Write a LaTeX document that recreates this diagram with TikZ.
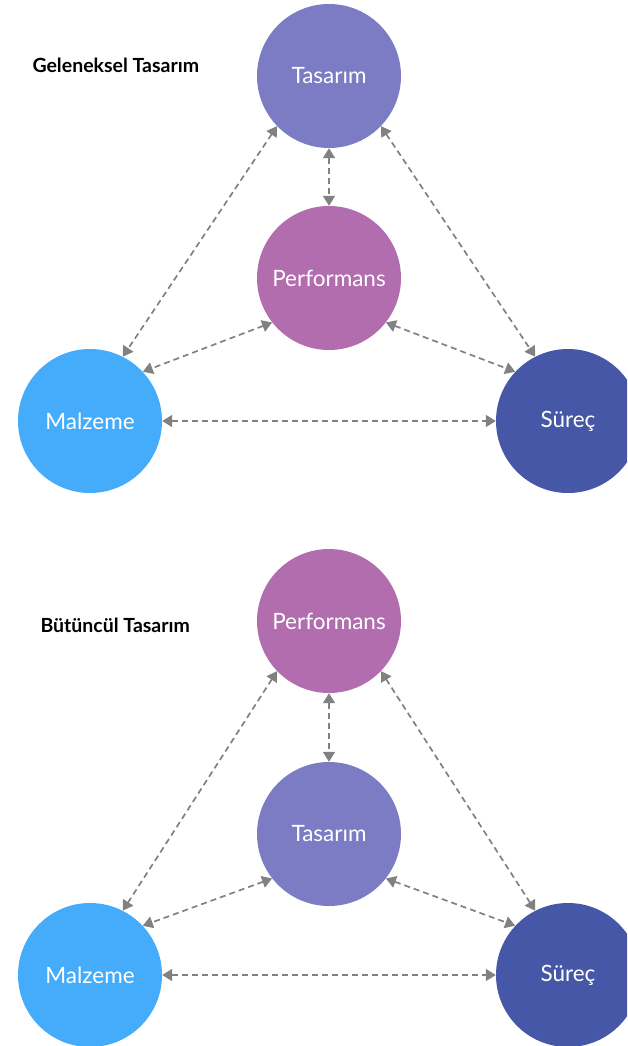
\documentclass[tikz,border=0pt]{standalone}
\usepackage{fontspec}
\setmainfont{Lato}
\usetikzlibrary{arrows.meta}

\definecolor{tasColor}{HTML}{7B7CC4}
\definecolor{perfColor}{HTML}{B26DAE}
\definecolor{malColor}{HTML}{45ABFB}
\definecolor{surColor}{HTML}{4757A7}
\definecolor{linkColor}{HTML}{818181}

\tikzset{
  disc/.style={circle, minimum size=144pt, inner sep=0pt, text=white,
    font=\fontsize{22.5}{26}\selectfont},
  link/.style={draw=linkColor, line width=1.7pt, dash pattern=on 6pt off 4pt,
    {Triangle[length=10pt,width=12pt]}-{Triangle[length=10pt,width=12pt]}},
  heading/.style={anchor=west, font=\fontsize{19.5}{23}\selectfont\bfseries}
}

\begin{document}
\begin{tikzpicture}[x=1pt, y=-1pt]
\clip (0,0) rectangle (627,1046);

% Top diagram
\node[heading] (head1) at (29,65) {Geleneksel Tasarım};
\node[disc, fill=tasColor] (tas1) at (329,76) {Tasarım};
\node[disc, fill=perfColor] (perf1) at (329,278) {Performans};
\node[disc, fill=malColor] (mal1) at (90,421) {Malzeme};
\node[disc, fill=surColor] (sur1) at (568,421) {Süreç};

% Edges
\draw[link] (tas1.224) -- (mal1.63);
\draw[link] (tas1.316) -- (sur1.117);
\draw[link] (tas1.270) -- (perf1.90);
\draw[link] (perf1.218) -- (mal1.43);
\draw[link] (perf1.322) -- (sur1.137);
\draw[link] (mal1.0) -- (sur1.180);

% Bottom diagram
\node[heading] (head2) at (37,625) {Bütüncül Tasarım};
\node[disc, fill=perfColor] (perf2) at (329,621) {Performans};
\node[disc, fill=tasColor] (tas2) at (329,834) {Tasarım};
\node[disc, fill=malColor] (mal2) at (90,975) {Malzeme};
\node[disc, fill=surColor] (sur2) at (568,975) {Süreç};

% Edges
\draw[link] (perf2.224) -- (mal2.63);
\draw[link] (perf2.316) -- (sur2.117);
\draw[link] (perf2.270) -- (tas2.90);
\draw[link] (tas2.218) -- (mal2.43);
\draw[link] (tas2.322) -- (sur2.137);
\draw[link] (mal2.0) -- (sur2.180);
\end{tikzpicture}
\end{document}
